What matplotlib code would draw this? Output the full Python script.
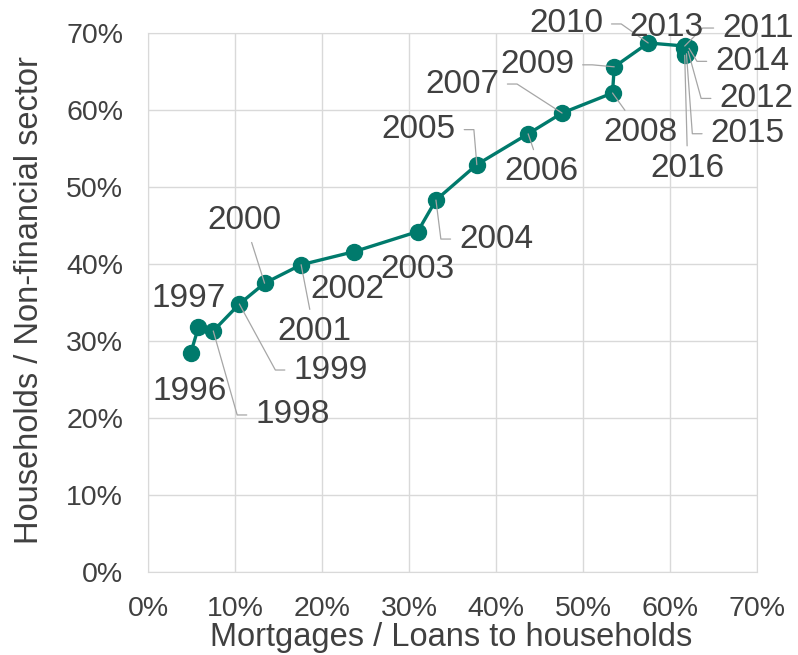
import math
import matplotlib
matplotlib.use("Agg")
import matplotlib.pyplot as plt
from matplotlib.ticker import PercentFormatter

plt.rcParams['font.family'] = ['Liberation Sans', 'DejaVu Sans']

# data (shares in %)
years = [1996, 1997, 1998, 1999, 2000, 2001, 2002, 2003, 2004, 2005, 2006,
         2007, 2008, 2009, 2010, 2011, 2012, 2013, 2014, 2015, 2016]
mortgages = [4.9, 5.8, 7.5, 10.5, 13.4, 17.6, 23.7, 31.0, 33.1, 37.8, 43.7,
             47.6, 53.4, 53.6, 57.5, 61.7, 62.1, 61.6, 62.2, 61.9, 61.7]
households = [28.4, 31.8, 31.3, 34.8, 37.5, 39.9, 41.6, 44.2, 48.3, 52.9, 56.9,
              59.6, 62.2, 65.6, 68.7, 68.3, 67.6, 68.1, 68.0, 67.3, 67.1]

# label offsets in pixels (dx right, dy up); leader: 0 none, 1 straight, 2 elbow
label_dx = [-1, -10, 79, 91, -20, 13, -7, 0, 60, -58, 13, -100, 28, -77, -82, 73, 68, -17, 63, 61, 3]
label_dy = [-38, 29, -84, -66, 63, -67, -38, -38, -39, 35, -38, 29, -39, 2, 19, 18, -47, 20, -13, -80, -113]
leader = [0, 0, 2, 2, 1, 1, 0, 0, 2, 2, 1, 2, 1, 2, 2, 2, 2, 0, 2, 2, 1]

teal = '#007A6C'
txt = '#404040'
grid_c = '#D9D9D9'
lead_c = '#A6A6A6'
fs_lab = 24
half_w = 4 * 0.556 * fs_lab * 100 / 72 / 2   # half width of a year label, px

fig = plt.figure(figsize=(7.98, 6.55), dpi=100)
ax = fig.add_axes([0.1855, 0.1267, 0.763, 0.823])

ax.plot(mortgages, households, color=teal, lw=2.4, marker='o', ms=11.5,
        zorder=3)

for yr, x, y, dx, dy, ld in zip(years, mortgages, households, label_dx, label_dy, leader):
    arrow = None
    if ld == 1:
        arrow = dict(arrowstyle='-', color=lead_c, lw=0.9, shrinkA=3, shrinkB=0)
    elif ld == 2:
        s = -1 if dx > 0 else 1
        cx = dx + s * (half_w + 18)
        ang = math.degrees(math.atan2(dy, cx))
        arrow = dict(arrowstyle='-', color=lead_c, lw=0.9, shrinkA=4, shrinkB=0,
                     relpos=(0 if dx > 0 else 1, 0.5),
                     connectionstyle=f'angle,angleA=0,angleB={ang:.1f},rad=0')
    ax.annotate(str(yr), xy=(x, y), xytext=(dx * 0.72, dy * 0.72),
                textcoords='offset points', ha='center', va='center',
                fontsize=fs_lab, color=txt, arrowprops=arrow, zorder=4,
                annotation_clip=False)

ax.set_xlim(0, 70)
ax.set_ylim(0, 70)
ax.set_xticks(range(0, 71, 10))
ax.set_yticks(range(0, 71, 10))
ax.xaxis.set_major_formatter(PercentFormatter(decimals=0))
ax.yaxis.set_major_formatter(PercentFormatter(decimals=0))
ax.grid(True, color=grid_c, lw=1)
ax.set_axisbelow(True)
for s in ax.spines.values():
    s.set_color(grid_c)
ax.tick_params(length=0, labelsize=20.5, labelcolor=txt)
ax.tick_params(axis='x', pad=17)
ax.tick_params(axis='y', pad=18)

ax.set_xlabel('Mortgages / Loans to households', fontsize=23.5, color=txt)
ax.set_ylabel('Households / Non-financial sector', fontsize=23.5, color=txt)
ax.xaxis.label.set_va('center')
ax.yaxis.label.set_va('center')
ax.xaxis.set_label_coords(0.4975, -0.1206)
ax.yaxis.set_label_coords(-0.194, 0.505)

fig.savefig('out.png', dpi=100)
